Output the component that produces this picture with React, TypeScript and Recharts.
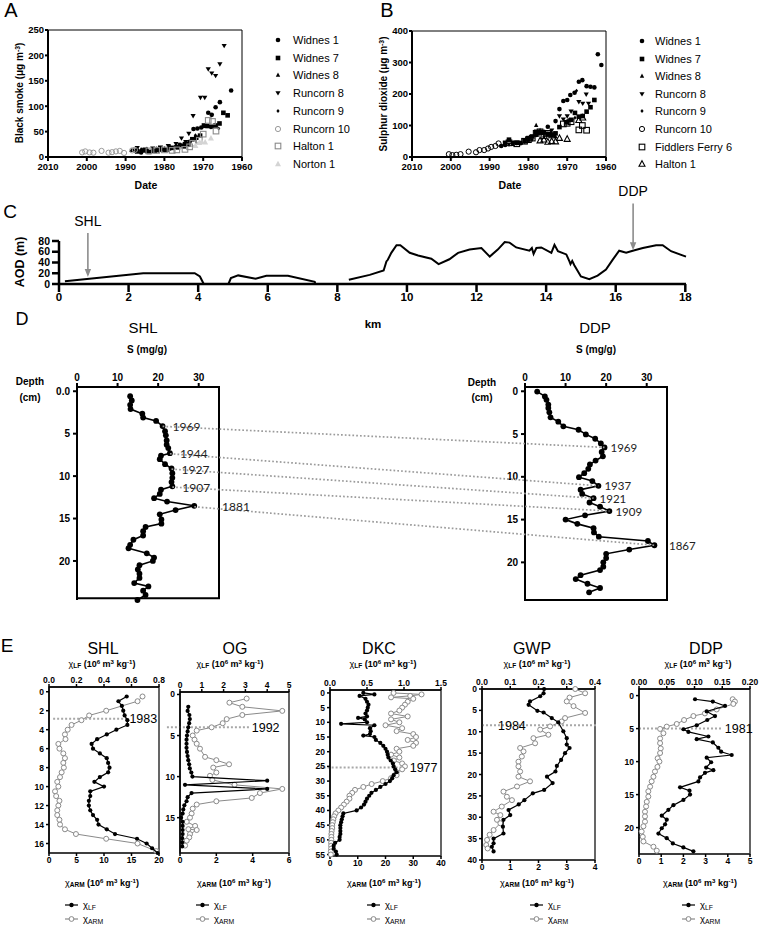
import React from 'react';
import {
  ScatterChart,
  Scatter,
  LineChart,
  Line,
  XAxis,
  YAxis,
  ReferenceArea,
  ReferenceLine,
  ReferenceDot,
} from 'recharts';

const FONT = '"Liberation Sans", Arial, Helvetica, sans-serif';
const DATE_FONT = 'Lato, "Open Sans", sans-serif';

type Pt = [number, number];

// ---------- A: black smoke, [year, ug m-3]
const SMOKE_WIDNES_1: Pt[] = [[1987.5, 12], [1986, 9], [1984.5, 11], [1983, 12], [1981.5, 13], [1980, 14], [1978.5, 17], [1977, 20], [1976, 24], [1974.8, 26], [1973.5, 30], [1972.5, 55], [1971.5, 56], [1970.5, 58], [1969.5, 61], [1968.7, 87], [1967.8, 83], [1966.8, 98], [1965.7, 108], [1962.8, 131]];
const SMOKE_WIDNES_7: Pt[] = [[1987, 11], [1985.5, 13], [1984, 10], [1982.5, 12], [1981, 15], [1979.5, 14], [1978, 18], [1976.5, 19], [1975, 21], [1973.8, 25], [1972.8, 35], [1971.8, 38], [1970.8, 42], [1969.8, 62], [1968.8, 61], [1967.8, 60], [1966.8, 62], [1965.8, 66], [1964.8, 87], [1963.7, 82]];
const SMOKE_WIDNES_8: Pt[] = [[1988.5, 13], [1987, 17], [1986, 15], [1984.5, 16], [1983, 14], [1981.5, 18], [1980, 17], [1978.5, 20], [1977, 22]];
const SMOKE_RUNCORN_8: Pt[] = [[1987, 18], [1985, 15], [1983, 17], [1981, 19], [1979, 22], [1977, 26], [1975.6, 37], [1974.5, 30], [1973.7, 46], [1972.6, 81], [1970.7, 117], [1969.6, 117], [1968.7, 173], [1967.8, 165], [1966.8, 160], [1965.7, 183], [1964.6, 219]];
const SMOKE_RUNCORN_9: Pt[] = [[1988, 15], [1985, 14], [1982, 17], [1979, 19], [1976, 22], [1974, 24], [1972, 43], [1970, 60], [1968, 58], [1966, 56]];
const SMOKE_RUNCORN_10: Pt[] = [[2001.2, 9], [2000.4, 11], [1999.3, 9], [1998.3, 8.5], [1996.2, 12], [1994.4, 8.5], [1993.5, 9.5], [1992.5, 11], [1991.5, 12], [1990.4, 8], [1988.3, 13], [1987.6, 14]];
const SMOKE_HALTON_1: Pt[] = [[1984, 12], [1982, 13], [1980, 14], [1978, 13], [1976.8, 14], [1974.7, 15], [1973.5, 20], [1972.7, 27], [1971, 33], [1970, 45], [1968.7, 72], [1967.6, 70], [1966.7, 51]];
const SMOKE_NORTON_1: Pt[] = [[1972, 22], [1971, 28], [1970.4, 30], [1969.5, 29], [1968, 37]];

// ---------- B: sulphur dioxide, [year, ug m-3]
const SO2_WIDNES_1: Pt[] = [[1987, 35], [1986, 38], [1984, 45], [1982, 44], [1980, 55], [1978, 70], [1976, 80], [1975, 96], [1973, 114], [1972, 152], [1971, 178], [1970, 181], [1969.2, 197], [1968.1, 204], [1967, 239], [1966.1, 244], [1965, 225], [1964, 223], [1963, 221], [1962.1, 326], [1961.2, 292]];
const SO2_WIDNES_7: Pt[] = [[1986, 45], [1985, 55], [1983, 45], [1981, 50], [1980, 60], [1979, 65], [1978, 80], [1977, 80], [1976, 78], [1975, 72], [1974, 70], [1973, 75], [1972, 95], [1970, 110], [1969, 118], [1968, 140], [1967, 128], [1966, 130], [1965, 144], [1964, 158], [1963, 181]];
const SO2_WIDNES_8: Pt[] = [[1984, 40], [1982, 45], [1980, 55], [1978, 101], [1977, 85], [1975, 75], [1973, 65]];
const SO2_RUNCORN_8: Pt[] = [[1985, 40], [1983, 45], [1980, 60], [1978, 72], [1976, 75], [1974, 85], [1972, 130], [1971, 120], [1970, 130], [1969, 145], [1967, 175], [1966, 170], [1965.1, 199], [1964.5, 170]];
const SO2_RUNCORN_9: Pt[] = [[1986, 40], [1984, 42], [1981, 48], [1979, 55], [1976, 65], [1974, 75], [1972, 95], [1970, 115], [1968, 125], [1967.6, 210], [1966, 130]];
const SO2_RUNCORN_10: Pt[] = [[2000.5, 9], [1999.6, 6], [1998.6, 7], [1997.5, 9], [1995.4, 17], [1993.5, 15], [1992.6, 22], [1991.4, 22], [1990.4, 27], [1989.6, 32], [1988.5, 35], [1987.7, 43]];
const SO2_FIDDLERS_FERRY_6: Pt[] = [[1985, 45], [1983, 42], [1981, 50], [1980, 55], [1979, 60], [1978, 75], [1977, 80], [1976, 68], [1975, 75], [1974, 70], [1971, 105], [1970, 107], [1969, 112], [1967, 86], [1966.1, 100], [1965, 85]];
const SO2_HALTON_1: Pt[] = [[1977, 52], [1976, 55], [1975, 48], [1974, 50], [1973, 49], [1972, 60], [1970, 57], [1967, 117], [1966, 125]];

const YEAR_TICKS = [2010, 2000, 1990, 1980, 1970, 1960];
const SMOKE_TICKS = [0, 50, 100, 150, 200, 250];
const SO2_TICKS = [0, 100, 200, 300, 400];

// ---------- C: elevation transect, [km, AOD m] (null = gap)
const TERRAIN: [number, number | null][] = [
  [0.17, 5], [2.42, 20], [3.9, 20], [4.05, 14], [4.16, 0], [4.5, null],
  [4.87, 0], [4.94, 11], [5.15, 16], [5.65, 10], [5.96, 15.5], [6.58, 15.5], [7.35, 4], [7.37, 0], [7.8, null],
  [8.33, 8], [8.93, 17], [9.33, 25], [9.41, 42], [9.45, 45], [9.55, 58], [9.7, 72], [9.81, 72], [10.08, 58],
  [10.32, 53], [10.7, 47], [10.91, 37], [11.22, 46], [11.47, 58], [11.8, 64], [12.14, 67], [12.38, 51],
  [12.61, 64], [12.81, 78], [12.95, 77], [13.14, 68], [13.52, 62], [13.59, 67], [13.64, 56], [13.72, 67],
  [13.86, 68], [14.15, 58], [14.24, 73], [14.34, 61], [14.58, 55], [14.67, 42], [14.7, 37], [14.75, 43],
  [14.81, 35], [15.0, 14], [15.24, 9], [15.48, 15.5], [15.72, 27], [15.91, 45], [16.1, 62], [16.3, 58],
  [16.49, 62], [16.78, 67], [17.16, 72], [17.35, 72], [17.59, 61], [18.02, 51],
];
const KM_TICKS = [0, 2, 4, 6, 8, 10, 12, 14, 16, 18];
const AOD_TICKS = [0, 20, 40, 60, 80];
const SITE_NAMES = ['SHL', 'DDP'];
const SITE_KM = [0.83, 16.5];
const SITE_ARROW_TOP = [95, 150];
const SITE_ARROW_TIP = [13, 63];

// ---------- D: sulphur, [depth cm, S mg/g]
const SHL_S: Pt[] = [[0.58, 13.1], [1.09, 13.5], [1.6, 13.1], [2.1, 13.2], [2.65, 16.1], [3.1, 16.3], [3.5, 19.5], [4.1, 21.1], [4.7, 21.7], [5.2, 21.9], [5.8, 22.1], [6.3, 22.1], [6.7, 22.5], [7.3, 22.9], [7.6, 20.7], [8.0, 20.4], [8.6, 21.7], [9.1, 23.3], [9.65, 23.5], [10.2, 23.5], [10.7, 23.3], [11.2, 23.5], [11.6, 20.7], [12.1, 20.4], [12.6, 19.0], [13.0, 22.2], [13.5, 28.9], [14.0, 24.3], [14.5, 20.4], [15.1, 20.8], [15.6, 20.8], [16.0, 16.9], [16.5, 16.3], [17.0, 16.3], [17.5, 13.9], [18.1, 13.1], [18.5, 12.7], [19.1, 17.2], [19.6, 19.0], [20.0, 18.7], [20.5, 15.4], [21.0, 15.0], [21.5, 15.4], [22.0, 15.4], [22.6, 14.1], [23.0, 17.6], [23.5, 16.3], [24.0, 16.9], [24.6, 14.9]];
const DDP_S: Pt[] = [[0.04, 3.0], [0.6, 4.9], [1.0, 5.3], [1.56, 5.75], [1.95, 5.75], [2.46, 6.0], [3.05, 6.3], [3.55, 8.2], [4.1, 9.45], [4.5, 13.2], [5.04, 15.0], [5.55, 17.3], [6.1, 18.7], [6.56, 19.6], [7.1, 18.9], [7.6, 19.2], [8.1, 17.4], [8.55, 16.0], [9.06, 15.6], [9.57, 14.6], [10.04, 13.3], [10.5, 16.6], [11.05, 18.1], [11.5, 13.7], [12.0, 14.1], [12.5, 16.9], [13.0, 15.9], [13.5, 18.5], [14.0, 20.8], [14.5, 14.8], [15.0, 10.0], [15.5, 12.9], [16.0, 16.9], [16.5, 17.0], [17.0, 18.2], [17.5, 30.3], [18.0, 31.9], [18.5, 25.7], [19.0, 20.0], [19.5, 20.0], [20.0, 19.3], [20.5, 19.3], [20.9, 18.5], [21.5, 13.7], [21.95, 12.5], [22.5, 15.4], [23.0, 18.5], [23.5, 15.8]];
const S_TICKS = [0, 10, 20, 30];
const D_DEPTH_TICKS = [0, 5, 10, 15, 20];
const SHL_DATES = ['1969', '1944', '1927', '1907', '1881'];
const SHL_DATE_DEPTHS = [4.1, 7.3, 9.1, 11.2, 13.5];
const DDP_DATES = ['1969', '1937', '1921', '1909', '1867'];
const DDP_DATE_DEPTHS = [6.56, 11.05, 12.5, 14.0, 18.0];

// ---------- E: magnetic susceptibility, [depth cm, value]
const SHL_LF: Pt[] = [[0.5, 0.565], [1, 0.505], [1.5, 0.53], [2, 0.54], [2.5, 0.55], [3, 0.57], [3.5, 0.57], [4, 0.49], [4.5, 0.42], [5, 0.35], [5.5, 0.31], [6, 0.32], [6.5, 0.37], [7, 0.42], [7.5, 0.43], [8, 0.44], [8.5, 0.43], [9, 0.37], [9.5, 0.33], [10, 0.4], [10.5, 0.3], [11, 0.3], [11.5, 0.29], [12, 0.29], [12.5, 0.3], [13, 0.32], [13.5, 0.35], [14, 0.36], [14.5, 0.42], [15, 0.48], [15.5, 0.64], [16, 0.71], [16.5, 0.75], [17, 0.79]];
const SHL_ARM: Pt[] = [[0.5, 17], [1, 16.1], [2, 10.4], [2.5, 7.3], [3, 5.9], [3.5, 4.1], [4, 3.4], [4.5, 2.9], [5, 3], [5.5, 1.7], [6, 1.9], [6.5, 2.6], [7, 2.9], [7.5, 2.6], [8, 2.7], [8.5, 2.3], [9, 2], [9.5, 1.5], [10, 1.7], [10.5, 1.1], [11, 1.3], [11.5, 1.9], [12, 1.7], [12.5, 1.5], [13, 1.5], [13.5, 1.9], [14, 2], [14.5, 2.9], [15, 4.9], [15.5, 10.4], [16, 16.1], [16.8, 19.5]];
const OG_LF: Pt[] = [[1.5, 0.38], [2, 0.35], [2.5, 0.43], [3, 0.45], [3.5, 0.42], [4, 0.38], [4.5, 0.35], [5, 0.32], [5.5, 0.3], [6, 0.3], [6.5, 0.3], [7, 0.32], [7.5, 0.35], [8, 0.38], [8.5, 0.42], [9, 0.45], [9.5, 0.52], [10, 0.57], [10.5, 4], [11, 0.23], [11.5, 4], [12, 0.53], [12.5, 0.35], [13, 0.3], [13.5, 0.2], [14, 0.15], [14.5, 0.12], [15, 0.05], [15.5, 0.12], [16, 0.12], [16.5, 0.12], [17, 0.12], [17.5, 0.1], [18, 0.1], [18.5, 0.1]];
const OG_ARM: Pt[] = [[0.5, 3.67], [1, 2.72], [1.5, 3.43], [2, 5.63], [2.5, 3.43], [3, 2.57], [3.5, 2.35], [4, 1.74], [4.4, 0.92], [5, 0.7], [5.5, 0.8], [6, 0.92], [6.6, 1.1], [7.6, 1.38], [8, 2], [8.5, 2.7], [8.9, 1.83], [9.5, 2], [9.9, 1.65], [10.4, 1.78], [11, 3], [11.5, 5.63], [12, 4.4], [12.6, 3.95], [13, 2], [13.4, 0.92], [13.9, 0.7], [14.5, 0.64], [15, 0.55], [15.5, 0.37], [16, 0.83], [16.4, 0.46], [16.5, 0.92], [17, 0.55], [17.4, 0.51], [17.8, 0.37], [18.4, 0.28]];
const DKC_LF: Pt[] = [[0, 0.45], [0.5, 0.6], [1, 0.4], [2, 0.48], [3, 0.5], [4, 0.52], [5, 0.51], [6, 0.5], [7, 0.48], [8, 0.5], [8.5, 0.38], [9, 0.47], [10, 0.5], [10.5, 0.15], [11, 0.6], [12, 0.54], [13, 0.55], [14, 0.54], [14.5, 0.45], [15, 0.6], [16, 0.62], [17, 0.68], [18, 0.72], [19, 0.75], [20, 0.77], [21, 0.78], [22, 0.79], [23, 0.82], [24, 0.85], [25, 0.86], [26, 0.88], [27, 0.9], [28, 0.86], [29, 0.84], [30, 0.81], [31, 0.75], [32, 0.68], [33, 0.62], [34, 0.56], [35, 0.53], [36, 0.5], [37, 0.48], [38, 0.46], [39, 0.42], [40, 0.36], [41, 0.18], [42, 0.17], [43, 0.16], [44, 0.15], [45, 0.14], [46, 0.14], [47, 0.14], [48, 0.14], [49, 0.13], [50, 0.13], [51, 0.07], [52, 0.05], [53, 0.05], [54, 0.08], [55, 0.09]];
const DKC_ARM: Pt[] = [[0, 22.9], [0.5, 33], [1, 28.9], [1.5, 22], [2, 30], [3, 28], [4, 27], [5, 26], [6, 25], [7, 22], [8, 28], [9, 22], [10, 25], [11, 20], [12, 26], [13, 24], [14, 30], [15, 31], [16, 28], [17, 31], [18, 30], [19, 24], [20, 25], [21, 22], [22, 25], [23, 23], [24, 26], [25, 27], [26, 26], [27, 24], [28, 24], [29, 22], [30, 19], [31, 15], [32, 12], [33, 9], [34, 8], [35, 7], [36, 7], [37, 6], [38, 5], [39, 4], [40, 3], [41, 2], [42, 1.5], [43, 1.2], [44, 1], [45, 0.8], [46, 0.8], [47, 0.6], [48, 0.5], [49, 0.5], [50, 0.5], [51, 0.4], [52, 0.4], [53, 0.4], [54, 0.3], [55, 0.3]];
const GWP_LF: Pt[] = [[0, 0.22], [1, 0.218], [1.7, 0.206], [2.9, 0.17], [3.7, 0.165], [5.1, 0.196], [5.5, 0.218], [6.8, 0.247], [7.8, 0.27], [9.9, 0.288], [11.5, 0.3], [13, 0.3], [13.8, 0.31], [15, 0.294], [16.6, 0.28], [18, 0.265], [19.3, 0.26], [20.5, 0.23], [22, 0.25], [23.6, 0.22], [24.4, 0.18], [26, 0.15], [27, 0.13], [28.3, 0.094], [29.5, 0.1], [30.6, 0.076], [32.2, 0.074], [33.8, 0.076], [35, 0.041], [36.1, 0.041], [36.9, 0.035], [38, 0.041]];
const GWP_ARM: Pt[] = [[0, 3.3], [1, 3.65], [2, 3.1], [2.9, 3], [4, 3.24], [5.6, 3.65], [6.8, 2.94], [7.6, 2.82], [8.75, 2.41], [9.5, 2.06], [10.7, 2.35], [11.5, 1.82], [12.7, 1.88], [13.8, 1.35], [14.6, 1.47], [15.8, 1.41], [17, 1.29], [18.1, 1.29], [19.3, 1.35], [20.5, 1.29], [21.6, 1.7], [22.8, 1.24], [24, 0.76], [25.2, 0.88], [26, 1.06], [27.5, 0.7], [28.7, 0.41], [29.5, 0.65], [30.6, 0.53], [31.4, 0.65], [33, 0.41], [34.1, 0.27], [35.3, 0.18], [36.5, 0.15], [37.3, 0.2]];
const DDP_LF: Pt[] = [[0.55, 0.101], [0.9, 0.133], [1.57, 0.155], [2.4, 0.122], [3.1, 0.137], [3.7, 0.123], [4.5, 0.104], [5.1, 0.08], [5.5, 0.089], [6.2, 0.125], [6.6, 0.104], [7.1, 0.133], [7.9, 0.143], [8.5, 0.148], [9, 0.167], [9.4, 0.122], [10.1, 0.13], [10.9, 0.121], [11.3, 0.134], [11.7, 0.119], [12.4, 0.11], [13, 0.107], [13.9, 0.074], [14.4, 0.091], [15, 0.092], [15.8, 0.08], [16.6, 0.062], [17.3, 0.053], [18.2, 0.041], [18.8, 0.05], [19.5, 0.047], [20.1, 0.041], [20.9, 0.035], [21.6, 0.05], [22.4, 0.061], [23, 0.08], [23.6, 0.098]];
const DDP_ARM: Pt[] = [[0.55, 4.22], [0.9, 4.32], [1.26, 4.25], [2.1, 3.5], [2.7, 2.97], [3.1, 2.45], [3.7, 2.03], [4.3, 1.7], [4.7, 1.25], [5.05, 0.95], [5.7, 1.1], [6.5, 0.95], [7.2, 0.95], [8, 0.98], [8.7, 0.95], [9.5, 0.84], [10, 0.92], [10.8, 0.83], [11.5, 0.72], [12.3, 0.65], [13, 0.57], [13.8, 0.5], [14.5, 0.42], [15.3, 0.42], [16.1, 0.35], [16.8, 0.32], [17.6, 0.27], [18.3, 0.27], [19.1, 0.27], [19.8, 0.2], [20.6, 0.12], [21.4, 0.17], [22.1, 0.2], [22.9, 0.65], [23.5, 0.8]];

// ---------- helpers
const AXIS = (w: number, c = '#000') => ({ stroke: c, strokeWidth: w });
const TICK = (size: number) => ({ fontSize: size, fontWeight: 700, fill: '#000', fontFamily: FONT });

type Mark = 'dot' | 'square' | 'up' | 'down' | 'diamond' | 'ring' | 'box' | 'upOpen' | 'upPale';

function marker(kind: Mark, color: string, cx: number, cy: number) {
  switch (kind) {
    case 'dot':
      return <circle cx={cx} cy={cy} r={2.3} fill={color} />;
    case 'square':
      return <rect x={cx - 2.3} y={cy - 2.3} width={4.6} height={4.6} fill={color} />;
    case 'up':
      return <path d={`M${cx},${cy - 2.4}L${cx + 2.2},${cy + 1.7}L${cx - 2.2},${cy + 1.7}Z`} fill={color} />;
    case 'down':
      return <path d={`M${cx},${cy + 2.6}L${cx + 2.6},${cy - 1.8}L${cx - 2.6},${cy - 1.8}Z`} fill={color} />;
    case 'diamond':
      return <path d={`M${cx},${cy - 2}L${cx + 1.6},${cy}L${cx},${cy + 2}L${cx - 1.6},${cy}Z`} fill={color} />;
    case 'ring':
      return <circle cx={cx} cy={cy} r={2.6} fill="none" stroke={color} strokeWidth={1} />;
    case 'box':
      return <rect x={cx - 2.8} y={cy - 2.8} width={5.6} height={5.6} fill="none" stroke={color} strokeWidth={1.1} />;
    case 'upOpen':
      return <path d={`M${cx},${cy - 3.3}L${cx + 3},${cy + 2.3}L${cx - 3},${cy + 2.3}Z`} fill="none" stroke={color} strokeWidth={1.1} />;
    default:
      return <path d={`M${cx},${cy - 3.3}L${cx + 3},${cy + 2.3}L${cx - 3},${cy + 2.3}Z`} fill={color} />;
  }
}

type Series = { name: string; data: Pt[]; mark: Mark; color: string };

const SMOKE_SERIES: Series[] = [
  { name: 'Widnes 1', data: SMOKE_WIDNES_1, mark: 'dot', color: '#000' },
  { name: 'Widnes 7', data: SMOKE_WIDNES_7, mark: 'square', color: '#000' },
  { name: 'Widnes 8', data: SMOKE_WIDNES_8, mark: 'up', color: '#000' },
  { name: 'Runcorn 8', data: SMOKE_RUNCORN_8, mark: 'down', color: '#000' },
  { name: 'Runcorn 9', data: SMOKE_RUNCORN_9, mark: 'diamond', color: '#000' },
  { name: 'Runcorn 10', data: SMOKE_RUNCORN_10, mark: 'ring', color: '#9a9a9a' },
  { name: 'Halton 1', data: SMOKE_HALTON_1, mark: 'box', color: '#8a8a8a' },
  { name: 'Norton 1', data: SMOKE_NORTON_1, mark: 'upPale', color: '#d4d4d4' },
];

const SO2_SERIES: Series[] = [
  { name: 'Widnes 1', data: SO2_WIDNES_1, mark: 'dot', color: '#000' },
  { name: 'Widnes 7', data: SO2_WIDNES_7, mark: 'square', color: '#000' },
  { name: 'Widnes 8', data: SO2_WIDNES_8, mark: 'up', color: '#000' },
  { name: 'Runcorn 8', data: SO2_RUNCORN_8, mark: 'down', color: '#000' },
  { name: 'Runcorn 9', data: SO2_RUNCORN_9, mark: 'diamond', color: '#000' },
  { name: 'Runcorn 10', data: SO2_RUNCORN_10, mark: 'ring', color: '#000' },
  { name: 'Fiddlers Ferry 6', data: SO2_FIDDLERS_FERRY_6, mark: 'box', color: '#000' },
  { name: 'Halton 1', data: SO2_HALTON_1, mark: 'upOpen', color: '#000' },
];

const Sup = ({ children }: any) => (
  <sup style={{ fontSize: '0.68em', lineHeight: 0, verticalAlign: '0.45em' }}>{children}</sup>
);
const Sub = ({ children }: any) => (
  <sub style={{ fontSize: '0.72em', lineHeight: 0, verticalAlign: '-0.3em' }}>{children}</sub>
);

function T({ x, y, size = 10, bold = false, rotate = 0, family = FONT, children }: any) {
  return (
    <div
      style={{
        position: 'absolute',
        left: x,
        top: y,
        transform: `translate(-50%, -50%) rotate(${rotate}deg)`,
        fontSize: size,
        fontWeight: bold ? 700 : 400,
        fontFamily: family,
        lineHeight: 1,
        whiteSpace: 'nowrap',
      }}
    >
      {children}
    </div>
  );
}

type Box = { x: number; y: number; w: number; h: number };

// ---------- A / B
function EmissionPanel({ box, series, yMax, yTicks }: { box: Box; series: Series[]; yMax: number; yTicks: number[] }) {
  const yW = 36;
  const pr = 12;
  const pt = 6;
  const xh = 20;
  return (
    <div style={{ position: 'absolute', left: box.x - yW, top: box.y - pt }}>
      <ScatterChart width={yW + box.w + pr} height={pt + box.h + xh} margin={{ top: pt, right: pr, bottom: 0, left: 0 }}>
        <ReferenceArea x1={1960} x2={2010} y1={0} y2={yMax} fill="none" stroke="#000" strokeWidth={1} />
        <XAxis type="number" dataKey="year" domain={[1960, 2010]} ticks={YEAR_TICKS} reversed interval={0} height={xh}
          tick={TICK(9.5)} tickSize={4} tickMargin={2} axisLine={AXIS(2)} tickLine={AXIS(2)} />
        <YAxis type="number" dataKey="value" domain={[0, yMax]} ticks={yTicks} interval={0} width={yW}
          tick={TICK(9.5)} tickSize={3} tickMargin={1} axisLine={AXIS(2)} tickLine={AXIS(2)} />
        {series.map((s) => (
          <Scatter
            key={s.name}
            name={s.name}
            data={s.data.map(([year, value]) => ({ year, value }))}
            shape={(p: any) => marker(s.mark, s.color, p.cx, p.cy)}
            isAnimationActive={false}
          />
        ))}
      </ScatterChart>
    </div>
  );
}

function SiteKey({ x, y, gap, step, series }: { x: number; y: number; gap: number; step: number; series: Series[] }) {
  return (
    <>
      {series.map((s, i) => (
        <div key={s.name} style={{ position: 'absolute', left: x - 6, top: y + i * step - 7, height: 14, display: 'flex', alignItems: 'center' }}>
          <svg width={12} height={14}>{marker(s.mark, s.color, 6, 7)}</svg>
          <span style={{ marginLeft: gap - 6, fontSize: 11, fontFamily: FONT }}>{s.name}</span>
        </div>
      ))}
    </>
  );
}

// ---------- C
const C_BOX: Box = { x: 59, y: 241, w: 627, h: 43 };

function TerrainPanel() {
  const yW = 48;
  const pt = 60;
  const pr = 16;
  const xh = 24;
  const rows = TERRAIN.map(([km, aod]) => ({ km, aod }));
  return (
    <div style={{ position: 'absolute', left: C_BOX.x - yW, top: C_BOX.y - pt }}>
      <LineChart width={yW + C_BOX.w + pr} height={pt + C_BOX.h + xh} data={rows} margin={{ top: pt, right: pr, bottom: 0, left: 0 }}>
        <XAxis type="number" dataKey="km" domain={[0, 18]} ticks={KM_TICKS} interval={0} height={xh}
          tick={TICK(11.5)} tickSize={8} tickMargin={1} axisLine={AXIS(2.5)} tickLine={AXIS(2.5)} />
        <YAxis type="number" domain={[0, 80]} ticks={AOD_TICKS} interval={0} width={yW}
          tick={TICK(10.5)} tickSize={7} tickMargin={2} axisLine={AXIS(2.5)} tickLine={AXIS(2.5)} />
        <Line type="linear" dataKey="aod" stroke="#000" strokeWidth={2} dot={false} connectNulls={false} isAnimationActive={false} />
        {SITE_NAMES.map((name, i) => (
          <ReferenceLine
            key={`l-${name}`}
            segment={[{ x: SITE_KM[i], y: SITE_ARROW_TOP[i] }, { x: SITE_KM[i], y: SITE_ARROW_TIP[i] + 4 }]}
            stroke="#8c8c8c"
            strokeWidth={1.6}
            ifOverflow="visible"
          />
        ))}
        {SITE_NAMES.map((name, i) => (
          <ReferenceDot
            key={`h-${name}`}
            x={SITE_KM[i]}
            y={SITE_ARROW_TIP[i]}
            ifOverflow="visible"
            shape={(p: any) => (
              <path d={`M${p.cx},${p.cy}L${p.cx - 3.2},${p.cy - 8}L${p.cx + 3.2},${p.cy - 8}Z`} fill="#8c8c8c" />
            )}
          />
        ))}
        {SITE_NAMES.map((name, i) => (
          <ReferenceDot
            key={`t-${name}`}
            x={SITE_KM[i]}
            y={SITE_ARROW_TOP[i]}
            r={0}
            ifOverflow="visible"
            fill="none"
            stroke="none"
            label={{ value: name, position: 'top', offset: 7, fontSize: 14, fill: '#000', fontFamily: FONT }}
          />
        ))}
      </LineChart>
    </div>
  );
}

// ---------- D
const SHL_D_BOX: Box = { x: 77, y: 387, w: 142, h: 213 };
const DDP_D_BOX: Box = { x: 525, y: 387, w: 142, h: 213 };
const S_DOMAIN: [number, number] = [0, 35];
const D_DEPTH: [number, number] = [-0.5, 24.4];

function SulphurProfile({ box, data, fmt }: { box: Box; data: Pt[]; fmt: (v: number) => string }) {
  const yW = 34;
  const th = 22;
  return (
    <div style={{ position: 'absolute', left: box.x - yW, top: box.y - th }}>
      <ScatterChart width={yW + box.w + 6} height={th + box.h + 4} margin={{ top: 0, right: 6, bottom: 4, left: 0 }}>
        <ReferenceArea xAxisId="s" x1={S_DOMAIN[0]} x2={S_DOMAIN[1]} y1={D_DEPTH[0]} y2={D_DEPTH[1]} fill="none" stroke="#000" strokeWidth={2} />
        <XAxis xAxisId="s" orientation="top" type="number" dataKey="s" domain={S_DOMAIN} ticks={S_TICKS} interval={0} height={th}
          tick={TICK(10)} tickSize={4} tickMargin={2} axisLine={AXIS(2)} tickLine={AXIS(2)} />
        <YAxis type="number" dataKey="depth" domain={D_DEPTH} reversed ticks={D_DEPTH_TICKS} interval={0} width={yW} tickFormatter={fmt}
          tick={TICK(10)} tickSize={4} tickMargin={3} axisLine={AXIS(2)} tickLine={AXIS(2)} />
        <Scatter
          xAxisId="s"
          data={data.map(([depth, s]) => ({ depth, s }))}
          line={{ stroke: '#000', strokeWidth: 1.6 }}
          shape={(p: any) => <circle cx={p.cx} cy={p.cy} r={2.9} fill="#000" />}
          isAnimationActive={false}
        />
      </ScatterChart>
    </div>
  );
}

const project = (box: Box, depth: number, s: number) => ({
  px: box.x + ((s - S_DOMAIN[0]) / (S_DOMAIN[1] - S_DOMAIN[0])) * box.w,
  py: box.y + ((depth - D_DEPTH[0]) / (D_DEPTH[1] - D_DEPTH[0])) * box.h,
});
const sAt = (data: Pt[], depth: number) =>
  data.reduce((best, p) => (Math.abs(p[0] - depth) < Math.abs(best[0] - depth) ? p : best), data[0])[1];

function DateLinks() {
  return (
    <svg width={759} height={928} style={{ position: 'absolute', left: 0, top: 0, pointerEvents: 'none' }}>
      {SHL_DATES.map((d, i) => {
        const a = project(SHL_D_BOX, SHL_DATE_DEPTHS[i], sAt(SHL_S, SHL_DATE_DEPTHS[i]));
        const b = project(DDP_D_BOX, DDP_DATE_DEPTHS[i], sAt(DDP_S, DDP_DATE_DEPTHS[i]));
        const la = a.px + 38 > SHL_D_BOX.x + SHL_D_BOX.w ? SHL_D_BOX.x + SHL_D_BOX.w + 3 : a.px + 10;
        const lb = b.px + 34 > DDP_D_BOX.x + DDP_D_BOX.w ? DDP_D_BOX.x + DDP_D_BOX.w + 2 : b.px + 6;
        return (
          <g key={d + i}>
            <line x1={a.px} y1={a.py} x2={b.px} y2={b.py} stroke="#9b9b9b" strokeWidth={1.7} strokeDasharray="1.7 2.1" />
            <text x={la} y={a.py} dominantBaseline="central" fontSize={12} fontFamily={DATE_FONT} fill="#222">{d}</text>
            <text x={lb} y={b.py} dominantBaseline="central" fontSize={11.5} fontFamily={DATE_FONT} fill="#222">{DDP_DATES[i]}</text>
          </g>
        );
      })}
    </svg>
  );
}

// ---------- E
type MagPanel = {
  box: Box;
  lf: Pt[];
  arm: Pt[];
  lfDomain: [number, number];
  lfTicks: number[];
  lfDigits: number;
  armDomain: [number, number];
  armTicks: number[];
  depthDomain: [number, number];
  depthTicks: number[];
  year: string;
  yearDepth: number;
  yearFrom: number;
  yearTo: number;
  yearPos: string;
};

const MAG_PANELS: MagPanel[] = [
  { box: { x: 49, y: 687, w: 110, h: 166 }, lf: SHL_LF, arm: SHL_ARM, lfDomain: [0, 0.8], lfTicks: [0, 0.2, 0.4, 0.6, 0.8], lfDigits: 1,
    armDomain: [0, 20], armTicks: [0, 5, 10, 15, 20], depthDomain: [-0.5, 17], depthTicks: [0, 2, 4, 6, 8, 10, 12, 14, 16],
    year: '1983', yearDepth: 2.86, yearFrom: 0.03, yearTo: 0.57, yearPos: 'right' },
  { box: { x: 180, y: 692, w: 109, h: 161 }, lf: OG_LF, arm: OG_ARM, lfDomain: [0, 5], lfTicks: [0, 1, 2, 3, 4, 5], lfDigits: 0,
    armDomain: [0, 6], armTicks: [0, 2, 4, 6], depthDomain: [-0.3, 19.3], depthTicks: [0, 5, 10, 15],
    year: '1992', yearDepth: 4.0, yearFrom: -0.6, yearTo: 3.2, yearPos: 'right' },
  { box: { x: 330, y: 690, w: 111, h: 166 }, lf: DKC_LF, arm: DKC_ARM, lfDomain: [0, 1.5], lfTicks: [0, 0.5, 1, 1.5], lfDigits: 1,
    armDomain: [0, 40], armTicks: [0, 10, 20, 30, 40], depthDomain: [-1, 55.5], depthTicks: [0, 5, 10, 15, 20, 25, 30, 35, 40, 45, 50, 55],
    year: '1977', yearDepth: 25.4, yearFrom: -0.14, yearTo: 1.05, yearPos: 'right' },
  { box: { x: 482, y: 689, w: 113, h: 171 }, lf: GWP_LF, arm: GWP_ARM, lfDomain: [0, 0.4], lfTicks: [0, 0.1, 0.2, 0.3, 0.4], lfDigits: 1,
    armDomain: [0, 4], armTicks: [0, 1, 2, 3, 4], depthDomain: [0, 40], depthTicks: [0, 5, 10, 15, 20, 25, 30, 35, 40],
    year: '1984', yearDepth: 8.5, yearFrom: 0, yearTo: 0.405, yearPos: 'insideLeft' },
  { box: { x: 639, y: 689, w: 111, h: 165 }, lf: DDP_LF, arm: DDP_ARM, lfDomain: [0, 0.2], lfTicks: [0, 0.05, 0.1, 0.15, 0.2], lfDigits: 2,
    armDomain: [0, 5], armTicks: [0, 1, 2, 3, 4, 5], depthDomain: [-1, 24], depthTicks: [0, 5, 10, 15, 20],
    year: '1981', yearDepth: 5.0, yearFrom: 0, yearTo: 0.151, yearPos: 'right' },
];
const MAG_TITLES = ['SHL', 'OG', 'DKC', 'GWP', 'DDP'];

function MagneticProfile({ cfg }: { cfg: MagPanel }) {
  const { box } = cfg;
  const yW = 28;
  const th = 18;
  const bh = 18;
  const pr = 10;
  return (
    <div style={{ position: 'absolute', left: box.x - yW, top: box.y - th }}>
      <ScatterChart width={yW + box.w + pr} height={th + box.h + bh} margin={{ top: 0, right: pr, bottom: 0, left: 0 }}>
        <ReferenceArea xAxisId="lf" x1={cfg.lfDomain[0]} x2={cfg.lfDomain[1]} y1={cfg.depthDomain[0]} y2={cfg.depthDomain[1]}
          fill="none" stroke="#333" strokeWidth={1.5} />
        <XAxis xAxisId="lf" orientation="top" type="number" dataKey="lf" domain={cfg.lfDomain} ticks={cfg.lfTicks} interval={0} height={th}
          tickFormatter={(v: number) => v.toFixed(cfg.lfDigits)}
          tick={TICK(8.5)} tickSize={3} tickMargin={1} axisLine={AXIS(1.5)} tickLine={AXIS(1.5)} />
        <XAxis xAxisId="arm" orientation="bottom" type="number" dataKey="arm" domain={cfg.armDomain} ticks={cfg.armTicks} interval={0} height={bh}
          tick={TICK(8.5)} tickSize={3} tickMargin={1} axisLine={AXIS(1.5, '#333')} tickLine={AXIS(1.5)} />
        <YAxis type="number" dataKey="depth" domain={cfg.depthDomain} reversed ticks={cfg.depthTicks} interval={0} width={yW}
          tick={TICK(8.5)} tickSize={3} tickMargin={2} axisLine={AXIS(1.5)} tickLine={AXIS(1.5)} />
        <ReferenceLine
          xAxisId="lf"
          segment={[{ x: cfg.yearFrom, y: cfg.yearDepth }, { x: cfg.yearTo, y: cfg.yearDepth }]}
          stroke="#a8a8a8"
          strokeWidth={2}
          strokeDasharray="2 2"
          ifOverflow="visible"
          label={{ value: cfg.year, position: cfg.yearPos, offset: cfg.yearPos === 'right' ? 2 : 16, fill: '#000', fontSize: 12.5, fontFamily: FONT }}
        />
        <Scatter
          xAxisId="arm"
          data={cfg.arm.map(([depth, arm]) => ({ depth, arm }))}
          line={{ stroke: '#8a8a8a', strokeWidth: 1 }}
          shape={(p: any) => <circle cx={p.cx} cy={p.cy} r={2.5} fill="#fff" stroke="#8a8a8a" strokeWidth={1} />}
          isAnimationActive={false}
        />
        <Scatter
          xAxisId="lf"
          data={cfg.lf.map(([depth, lf]) => ({ depth, lf }))}
          line={{ stroke: '#000', strokeWidth: 1.2 }}
          shape={(p: any) => <circle cx={p.cx} cy={p.cy} r={2.1} fill="#000" />}
          isAnimationActive={false}
        />
      </ScatterChart>
    </div>
  );
}

const ChiUnit = ({ sub }: { sub: string }) => (
  <>
    <span style={{ fontWeight: 400 }}>χ</span>
    <Sub>{sub}</Sub> (10<Sup>6</Sup> m<Sup>3</Sup> kg<Sup>-1</Sup>)
  </>
);

function ChiKey({ x }: { x: number }) {
  const row = (y: number, black: boolean) => (
    <div style={{ position: 'absolute', left: x, top: y - 6, height: 12, display: 'flex', alignItems: 'center', fontSize: 9.5, fontFamily: FONT, lineHeight: 1 }}>
      <svg width={13} height={12}>
        <line x1={0} y1={6} x2={13} y2={6} stroke={black ? '#000' : '#8a8a8a'} strokeWidth={1.2} />
        {black ? <circle cx={6.5} cy={6} r={2.2} fill="#000" /> : <circle cx={6.5} cy={6} r={2.4} fill="#fff" stroke="#8a8a8a" strokeWidth={1} />}
      </svg>
      <span style={{ marginLeft: 5 }}>
        χ<Sub>{black ? 'LF' : 'ARM'}</Sub>
      </span>
    </div>
  );
  return (
    <>
      {row(905, true)}
      {row(919, false)}
    </>
  );
}

const MAG_TITLE_X = [103, 235, 379, 532, 706];
const MAG_TOP_LABEL_X = [102, 230, 383, 537, 698];
const MAG_BOTTOM_LABEL_X = [102, 234, 384, 537, 700];
const MAG_KEY_X = [65, 196, 367, 530, 682];

export default function App() {
  return (
    <div style={{ position: 'absolute', left: 0, top: 0, width: 759, height: 928, background: '#fff', overflow: 'hidden', fontFamily: FONT, color: '#000' }}>
      {/* A */}
      <T x={11} y={10} size={20}>A</T>
      <EmissionPanel box={{ x: 48, y: 30, w: 194, h: 127 }} series={SMOKE_SERIES} yMax={250} yTicks={SMOKE_TICKS} />
      <T x={20} y={93} size={10} bold rotate={-90}>Black smoke (μg m<Sup>-3</Sup>)</T>
      <T x={146} y={185} size={10.5} bold>Date</T>
      <SiteKey x={278} y={40} gap={15} step={17.7} series={SMOKE_SERIES} />

      {/* B */}
      <T x={387} y={10} size={20}>B</T>
      <EmissionPanel box={{ x: 412, y: 31, w: 194, h: 126 }} series={SO2_SERIES} yMax={400} yTicks={SO2_TICKS} />
      <T x={384} y={94} size={10} bold rotate={-90}>Sulphur dioxide (μg m<Sup>-3</Sup>)</T>
      <T x={510} y={185} size={10.5} bold>Date</T>
      <SiteKey x={642} y={41} gap={13} step={17.6} series={SO2_SERIES} />

      {/* C */}
      <T x={10} y={211} size={19}>C</T>
      <TerrainPanel />
      <T x={20} y={262} size={12.5} bold rotate={-90}>AOD (m)</T>
      <T x={373} y={325} size={11.5} bold>km</T>

      {/* D */}
      <T x={22} y={319} size={18}>D</T>
      <T x={143} y={327} size={15}>SHL</T>
      <T x={595} y={327} size={15}>DDP</T>
      <T x={147} y={350} size={10} bold>S (mg/g)</T>
      <T x={596} y={350} size={10} bold>S (mg/g)</T>
      <T x={30} y={382} size={10} bold>Depth</T>
      <T x={30} y={398} size={10} bold>(cm)</T>
      <T x={482} y={383} size={10} bold>Depth</T>
      <T x={482} y={398} size={10} bold>(cm)</T>
      <SulphurProfile box={SHL_D_BOX} data={SHL_S} fmt={(v) => (v === 0 ? '0.0' : String(v))} />
      <SulphurProfile box={DDP_D_BOX} data={DDP_S} fmt={(v) => String(v)} />
      <DateLinks />

      {/* E */}
      <T x={7} y={645} size={19}>E</T>
      {MAG_PANELS.map((cfg, i) => (
        <React.Fragment key={MAG_TITLES[i]}>
          <T x={MAG_TITLE_X[i]} y={649} size={16}>{MAG_TITLES[i]}</T>
          <T x={MAG_TOP_LABEL_X[i]} y={664} size={9} bold><ChiUnit sub="LF" /></T>
          <MagneticProfile cfg={cfg} />
          <T x={MAG_BOTTOM_LABEL_X[i]} y={883} size={9} bold><ChiUnit sub="ARM" /></T>
          <ChiKey x={MAG_KEY_X[i]} />
        </React.Fragment>
      ))}
    </div>
  );
}
